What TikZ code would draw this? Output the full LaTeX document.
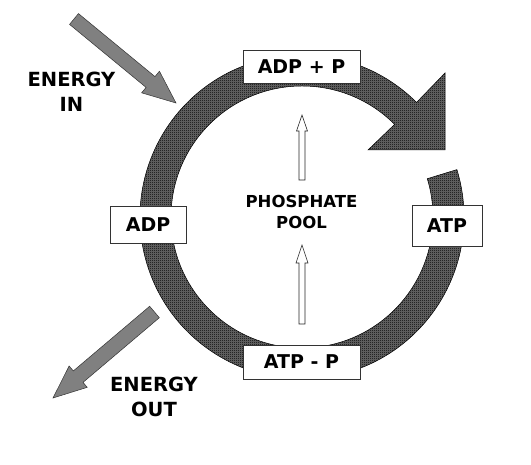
\documentclass[tikz,border=0pt]{standalone}
\usepackage{fontspec}
\setmainfont{DejaVu Sans}
\usetikzlibrary{calc,patterns}
\pgfdeclarepatternformonly{checker}{\pgfpointorigin}{\pgfpoint{2pt}{2pt}}{\pgfpoint{2pt}{2pt}}{%
  \pgfpathrectangle{\pgfpointorigin}{\pgfpoint{1pt}{1pt}}%
  \pgfpathrectangle{\pgfpoint{1pt}{1pt}}{\pgfpoint{1pt}{1pt}}%
  \pgfusepath{fill}}
\begin{document}
\begin{tikzpicture}[x=1pt,y=1pt,
  ring/.style={fill=black!58, draw=black, line width=0.5pt,
    postaction={pattern=checker, pattern color=black}},
  lbl/.style={draw=black!80, line width=0.8pt, fill=white, inner sep=0pt,
    font=\bfseries\fontsize{19}{22}\selectfont},
  bigtext/.style={align=center, inner sep=0pt, font=\bfseries\fontsize{19.5}{25}\selectfont},
  pooltext/.style={align=center, inner sep=0pt, font=\bfseries\fontsize{16.5}{21.5}\selectfont},
  grayarrow/.style={fill=black!50, draw=black!80, line width=0.5pt, line join=miter},
  whitearrow/.style={fill=white, draw=black!85, line width=0.6pt, line join=miter}]
\useasboundingbox (0,0) rectangle (531,465);
% ring
\coordinate (C) at (302,248);
\path[ring] ($(C)+(17:162)$) arc[start angle=17, end angle=-315, radius=162]
  -- (445,392) -- (445,315) -- (368,315)
  -- ($(C)+(45:131)$) arc[start angle=45, end angle=377, radius=131] -- cycle;
% energy in arrow
\coordinate (iT) at (74,446);
\coordinate (iP) at (176,362);
\coordinate (iB) at ($(iP)!33pt!(iT)$);
\path[grayarrow] ($(iT)!7pt!90:(iP)$) -- ($(iB)!7pt!-90:(iT)$) -- ($(iB)!14pt!-90:(iT)$)
  -- (iP) -- ($(iB)!14pt!90:(iT)$) -- ($(iB)!7pt!90:(iT)$) -- ($(iT)!7pt!-90:(iP)$) -- cycle;
% energy out arrow
\coordinate (oT) at (154.5,153);
\coordinate (oP) at (53,67);
\coordinate (oB) at ($(oP)!33pt!(oT)$);
\path[grayarrow] ($(oT)!7.5pt!90:(oP)$) -- ($(oB)!7.5pt!-90:(oT)$) -- ($(oB)!14pt!-90:(oT)$)
  -- (oP) -- ($(oB)!14pt!90:(oT)$) -- ($(oB)!7.5pt!90:(oT)$) -- ($(oT)!7.5pt!-90:(oP)$) -- cycle;
% white arrows
\coordinate (uT) at (302,285);
\coordinate (uP) at (302,350);
\path[whitearrow] (299,285) -- (299,334) -- (296.5,334) -- (uP) -- (307.5,334) -- (305,334) -- (305,285) -- cycle;
\coordinate (dT) at (302,141);
\coordinate (dP) at (302,220);
\path[whitearrow] (299,141) -- (299,202) -- (296,202) -- (dP) -- (308,202) -- (305,202) -- (305,141) -- cycle;
% boxes
\node[lbl, minimum width=117pt, minimum height=33pt] (adpp) at (301.5,398.5) {ADP + P};
\node[lbl, minimum width=117pt, minimum height=34pt] (atpp) at (301.5,103) {ATP - P};
\node[lbl, minimum width=76pt, minimum height=37pt] (adp) at (148,240.5) {ADP};
\node[lbl, minimum width=70pt, minimum height=41pt] (atp) at (447,239.5) {ATP};
% texts
\node[bigtext] (ein) at (71.5,373.2) {ENERGY\\IN};
\node[bigtext, font=\bfseries\fontsize{19.5}{24.5}\selectfont] (eout) at (154,68.2) {ENERGY\\OUT};
\node[pooltext] (pool) at (301.5,253.2) {PHOSPHATE\\POOL};
\end{tikzpicture}
\end{document}
